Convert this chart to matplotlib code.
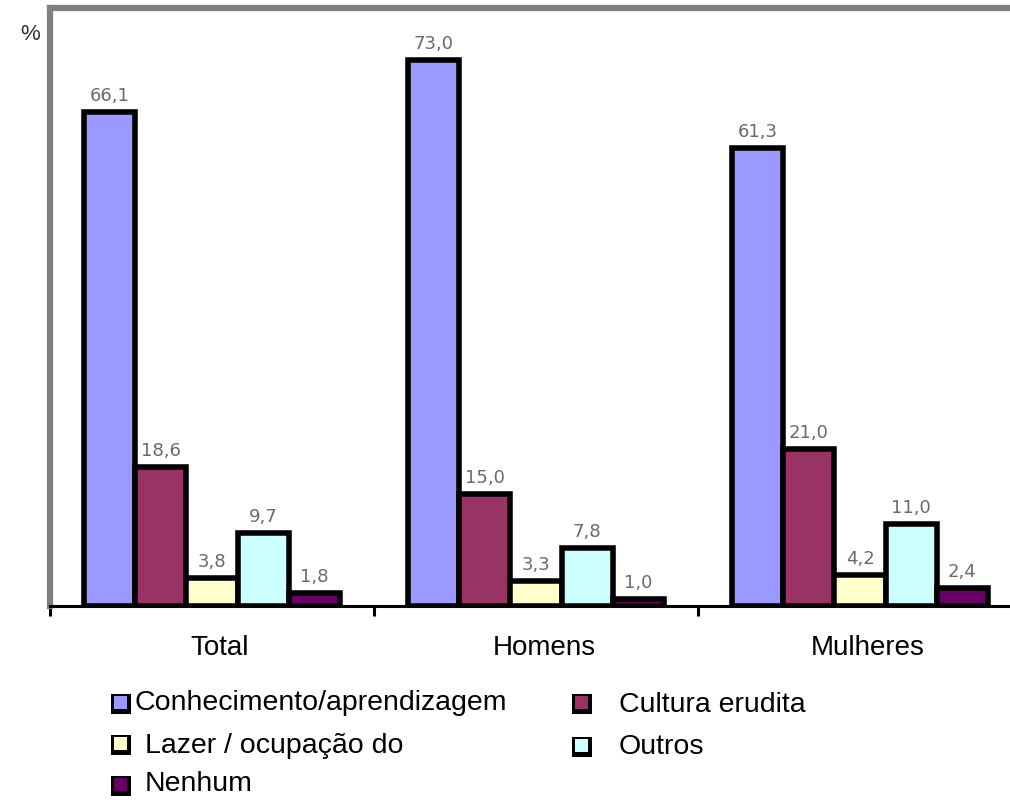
import matplotlib.pyplot as plt
from matplotlib.patches import Rectangle
import numpy as np

# data
groups = ["Total", "Homens", "Mulheres"]
series = ["Conhecimento/aprendizagem", "Cultura erudita", "Lazer / ocupação do",
          "Outros", "Nenhum"]
conhecimento = [66.1, 73.0, 61.3]
cultura = [18.6, 15.0, 21.0]
lazer = [3.8, 3.3, 4.2]
outros = [9.7, 7.8, 11.0]
nenhum = [1.8, 1.0, 2.4]
values = [conhecimento, cultura, lazer, outros, nenhum]
colors = ["#9999FF", "#993366", "#FFFFCC", "#CCFFFF", "#660066"]

W, H = 1010, 805
fig = plt.figure(figsize=(W / 100, H / 100), dpi=100)
plt.rcParams['font.family'] = ['Liberation Sans', 'DejaVu Sans']

# axes placed in pixel terms, right end runs off the canvas like the original
ax = fig.add_axes([50 / W, (H - 606) / H, 972 / W, 598 / H])
ax.set_xlim(-0.5, 2.5)
ax.set_ylim(0, 80)

x = np.arange(len(groups))
w = 0.158
for j, (vals, col) in enumerate(zip(values, colors)):
    pos = x + (j - 2) * w
    ax.bar(pos, vals, width=w, color=col, edgecolor="black", linewidth=4.0, zorder=3)
    for px, v in zip(pos, vals):
        ax.annotate(f"{v:.1f}".replace(".", ","), (px, v), xytext=(0, 11),
                    textcoords="offset pixels", ha="center", va="baseline",
                    fontsize=13, color="#6a6a6a", family="DejaVu Sans")

# spines
for side in ["left", "top"]:
    ax.spines[side].set_color("#808080")
    ax.spines[side].set_linewidth(4.5)
ax.spines["right"].set_visible(False)
ax.spines["bottom"].set_color("black")
ax.spines["bottom"].set_linewidth(2.2)
ax.spines["bottom"].set_zorder(4)

ax.set_yticks([])
ax.set_xticks([-0.5, 0.5, 1.5, 2.5])
ax.set_xticklabels([])
ax.tick_params(axis="x", which="major", direction="out", length=7, width=2.2, color="black")
ax.set_xticks(x + 0.025, minor=True)
ax.set_xticklabels(groups, minor=True, fontsize=20)
ax.tick_params(axis="x", which="minor", length=0, pad=21)

fig.text(30 / W, 1 - 35 / H, "%", fontsize=16, ha="center", va="center", color="#333333")

# legend drawn by hand, two columns, row-major order
leg_pos = [(111, 694, 135, 710), (572, 694, 619, 712),
           (111, 735, 145, 753), (572, 737, 619, 754),
           (111, 776, 145, 791)]
for (bx, by, tx, ty), lab, col in zip(leg_pos, series, colors):
    fig.patches.append(Rectangle((bx / W, 1 - (by + 20) / H), 20 / W, 20 / H,
                                 transform=fig.transFigure, facecolor="black",
                                 edgecolor="none"))
    fig.patches.append(Rectangle(((bx + 3) / W, 1 - (by + 15) / H), 13 / W, 13 / H,
                                 transform=fig.transFigure, facecolor=col,
                                 edgecolor="none"))
    fig.text(tx / W, 1 - ty / H, lab, fontsize=20.5, ha="left", va="baseline", color="black")

fig.savefig("out.png", dpi=100)
